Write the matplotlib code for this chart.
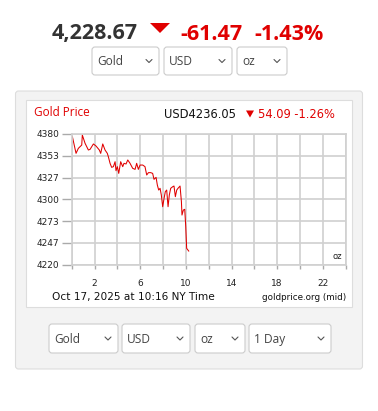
import matplotlib
matplotlib.use("Agg")
import matplotlib.pyplot as plt
from matplotlib.patches import FancyBboxPatch, Polygon

# --- data (hours since midnight NY, USD/oz) ---
hours = [0.06, 0.38, 0.58, 0.88, 0.93, 1.17, 1.46, 1.61, 1.90, 2.13, 2.42, 2.54,
         2.72, 2.92, 3.12, 3.21, 3.36, 3.50, 3.65, 3.80, 3.88, 4.00, 4.12, 4.29,
         4.47, 4.58, 4.76, 4.91, 5.11, 5.34, 5.55, 5.69, 5.84, 5.99, 6.22, 6.42,
         6.57, 6.72, 6.92, 7.09, 7.21, 7.39, 7.50, 7.62, 7.74, 7.85, 7.97, 8.09,
         8.20, 8.32, 8.44, 8.55, 8.67, 8.85, 8.96, 9.08, 9.20, 9.31, 9.49, 9.61,
         9.66, 9.78, 9.90, 9.99, 10.07, 10.25]
prices = [4376.7, 4356.3, 4362.4, 4366.5, 4378.8, 4368.6, 4360.4, 4361.2, 4367.8,
          4365.3, 4360.4, 4356.3, 4367.8, 4360.4, 4356.3, 4352.2, 4344.1, 4339.2,
          4340.0, 4346.1, 4335.1, 4340.0, 4331.8, 4346.1, 4340.0, 4344.1, 4343.3,
          4348.2, 4344.1, 4338.0, 4336.7, 4344.1, 4336.7, 4342.0, 4342.0, 4340.0,
          4329.8, 4332.7, 4332.7, 4331.8, 4324.5, 4326.9, 4317.6, 4311.4, 4313.5,
          4305.3, 4291.0, 4301.2, 4309.4, 4311.4, 4291.0, 4305.3, 4313.5, 4315.5,
          4316.3, 4303.3, 4311.4, 4313.5, 4316.3, 4297.1, 4280.8, 4286.9, 4287.8,
          4266.5, 4240.0, 4236.7]

y_ticks = [4220, 4246.67, 4273.33, 4300, 4326.67, 4353.33, 4380]
y_labels = ["4220", "4247", "4273", "4300", "4327", "4353", "4380"]
x_grid = [0, 2, 4, 6, 8, 10, 12, 14, 16, 18, 20, 22, 24]
x_labels = [2, 6, 10, 14, 18, 22]

spot_price = "4,228.67"
spot_change = "-61.47"
spot_pct = "-1.43%"
chart_quote = "USD4236.05"
chart_change = "54.09 -1.26%"
timestamp = "Oct 17, 2025 at 10:16 NY Time"
top_selects = ["Gold", "USD", "oz"]
bottom_selects = ["Gold", "USD", "oz", "1 Day"]

RED = "#e00000"
GRID = "#d0d0d0"
UI_FONT = "Open Sans"

fig = plt.figure(figsize=(3.78, 4.11), dpi=100)
fig.patch.set_facecolor("white")

# background axes in pixel coordinates for the page furniture
bg = fig.add_axes([0, 0, 1, 1])
bg.set_xlim(0, 378)
bg.set_ylim(411, 0)
bg.axis("off")


def dropdown(ax, x0, x1, y0, y1, label):
    ax.add_patch(FancyBboxPatch((x0, y0), x1 - x0, y1 - y0,
                                boxstyle="round,pad=0,rounding_size=3",
                                fc="white", ec="#cccccc", lw=0.8))
    cy = (y0 + y1) / 2
    ax.text(x0 + 5, cy + 0.5, label, fontsize=8.6, color="#444444",
            family=UI_FONT, ha="left", va="center")
    cx = x1 - 10
    ax.plot([cx - 3, cx, cx + 3], [cy - 1.5, cy + 1.5, cy - 1.5],
            color="#555555", lw=0.8, solid_capstyle="round")


# header quote
bg.text(52, 39.5, spot_price, fontsize=15.5, fontweight="bold", color="#333333",
        family=UI_FONT, ha="left", va="baseline")
bg.add_patch(Polygon([[150, 23], [170, 23], [160, 33]], closed=True, fc=RED, ec="none"))
bg.text(180, 39.5, spot_change, fontsize=15.5, fontweight="bold", color=RED,
        family=UI_FONT, ha="left", va="baseline")
bg.text(254, 39.5, spot_pct, fontsize=15.5, fontweight="bold", color=RED,
        family=UI_FONT, ha="left", va="baseline")

for (x0, x1), lab in zip([(92, 159), (164, 232), (237, 287)], top_selects):
    dropdown(bg, x0, x1, 47, 75, lab)

# chart panels
bg.add_patch(FancyBboxPatch((15.5, 91), 347, 278, boxstyle="round,pad=0,rounding_size=3",
                            fc="#f3f3f3", ec="#dddddd", lw=0.8))
bg.add_patch(FancyBboxPatch((26, 100), 326, 207, boxstyle="square,pad=0",
                            fc="white", ec="#dddddd", lw=0.8))

bg.text(34, 115.5, "Gold Price", fontsize=8.5, color=RED, family=UI_FONT,
        ha="left", va="baseline")
bg.text(164, 118, chart_quote, fontsize=8.3, color="#111111", ha="left", va="baseline")
bg.add_patch(Polygon([[246, 110.5], [254, 110.5], [250, 117.5]], closed=True, fc=RED, ec="none"))
bg.text(258, 118, chart_change, fontsize=8.3, color=RED, ha="left", va="baseline")

bg.text(52, 299.5, timestamp, fontsize=7.6, color="#111111", ha="left", va="baseline")
bg.text(346, 299.5, "goldprice.org (mid)", fontsize=6.3, color="#111111",
        ha="right", va="baseline")

for (x0, x1), lab in zip([(49, 118), (122, 190), (195, 245), (249, 331)], bottom_selects):
    dropdown(bg, x0, x1, 324, 353, lab)

# price chart
ax = fig.add_axes([71.7 / 378, 1 - 264.7 / 411, 274 / 378, 130.7 / 411])
ax.set_facecolor("white")
ax.plot(hours, prices, color=RED, lw=0.75)
ax.set_xlim(0, 24)
ax.set_ylim(4220, 4380)
ax.set_yticks(y_ticks)
ax.set_yticklabels(y_labels)
ax.set_xticks(x_grid)
ax.set_xticklabels([str(h) if h in x_labels else "" for h in x_grid])
ax.grid(True, color=GRID, lw=1.2)
ax.set_axisbelow(True)
for s in ax.spines.values():
    s.set_color(GRID)
    s.set_linewidth(1.2)
ax.tick_params(axis="y", length=7, width=1.0, color="#aaaaaa", pad=2,
               labelsize=6.5, labelcolor="#222222")
ax.tick_params(axis="x", length=3, width=1.0, color="#aaaaaa", pad=7,
               labelsize=6.5, labelcolor="#222222")
ax.text(0.985, 0.03, "oz", transform=ax.transAxes, fontsize=6, color="#222222",
        ha="right", va="bottom")

fig.savefig("out.png", dpi=100)
